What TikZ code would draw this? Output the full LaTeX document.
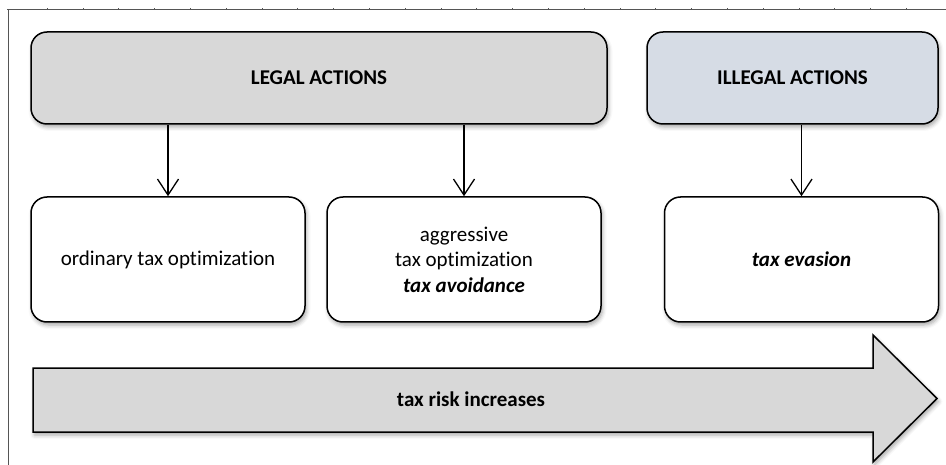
\documentclass[tikz,border=0pt]{standalone}
\usepackage{fontspec}
\setmainfont{Carlito}[Ligatures={NoCommon}]
\usetikzlibrary{shapes,arrows.meta,positioning,calc,shadows,shadows.blur}
\definecolor{legalgray}{RGB}{216,216,216}
\definecolor{illegalblue}{RGB}{214,220,229}
\definecolor{framegray}{RGB}{85,85,85}

\begin{document}
\begin{tikzpicture}[x=1pt,y=-1pt,
  font=\fontsize{21}{25.5}\selectfont,
  softshadow/.style={blur shadow={shadow xshift=1.5pt,shadow yshift=-3pt,shadow blur radius=4pt,shadow opacity=35}},
  actbox/.style={rectangle,rounded corners=16pt,draw,line width=1.5pt,minimum height=92pt,softshadow},
  kindbox/.style={rectangle,rounded corners=16pt,draw,line width=1.5pt,fill=white,minimum width=274pt,minimum height=125pt,align=center,softshadow},
  link/.style={line width=1.3pt,-{Straight Barb[length=16pt,width=21pt]}}]
  \useasboundingbox (0,0) rectangle (946,465);
  % frame of the table cell
  \draw[framegray,line width=1pt] (7,10) -- (946,10);
  \draw[framegray,line width=1pt] (8,10) -- (8,465);
  \foreach \i in {0,...,24}
    \draw[framegray,line width=0.6pt] (47+35.8*\i,8.5) -- ++(0,2);
  % actions
  \node[actbox,fill=legalgray,minimum width=576pt] (legal) at (319,78) {\bfseries LEGAL ACTIONS};
  \node[actbox,fill=illegalblue,minimum width=291pt] (illegal) at (792.5,78) {\bfseries ILLEGAL ACTIONS};
  % kinds of tax planning
  \node[kindbox] (ordinary) at (168,259.5) {ordinary tax optimization};
  \node[kindbox] (aggressive) at (464,259.5) {aggressive\\tax optimization\\\textbf{\textit{tax avoidance}}};
  \node[kindbox] (evasion) at (801.5,259.5) {\textbf{\textit{tax evasion}}};
  \draw[link] (legal.south -| ordinary.north) -- (ordinary.north);
  \draw[link] (legal.south -| aggressive.north) -- (aggressive.north);
  \draw[link] (illegal.south -| evasion.north) -- (evasion.north);
  % risk arrow
  \filldraw[fill=legalgray,line width=1.5pt,softshadow] (33,368) -- (873,368) -- (873,335)
    -- (937,398.5) -- (873,462) -- (873,432) -- (33,432) -- cycle;
  \node (risk) at (471,399) {\bfseries tax risk increases};
\end{tikzpicture}
\end{document}
